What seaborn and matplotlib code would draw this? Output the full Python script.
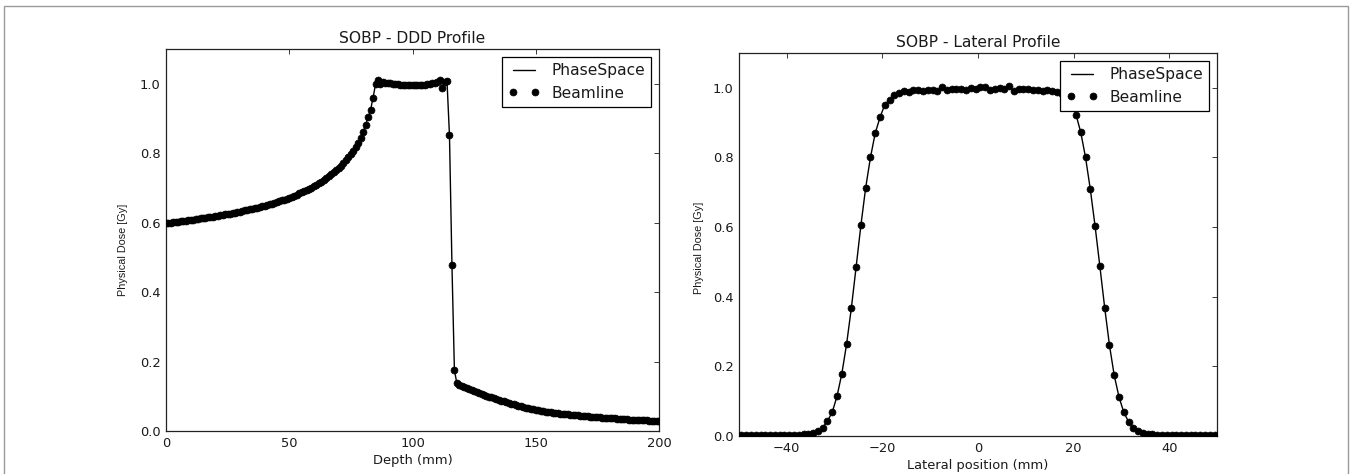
import numpy as np
import matplotlib
matplotlib.use("Agg")
import matplotlib.pyplot as plt
from matplotlib.patches import Rectangle
import seaborn as sns

# Depth-dose distribution (1 mm steps, 0-200 mm)
depth_mm = np.arange(0, 201, 1)
ddd_dose = [
    0.598, 0.599, 0.600, 0.601, 0.602, 0.603, 0.604, 0.605, 0.606, 0.607,
    0.608, 0.609, 0.610, 0.611, 0.612, 0.613, 0.614, 0.615, 0.616, 0.617,
    0.619, 0.620, 0.621, 0.622, 0.624, 0.625, 0.626, 0.628, 0.629, 0.630,
    0.632, 0.633, 0.635, 0.636, 0.638, 0.640, 0.641, 0.643, 0.645, 0.647,
    0.649, 0.651, 0.653, 0.655, 0.657, 0.659, 0.661, 0.664, 0.666, 0.669,
    0.672, 0.675, 0.678, 0.681, 0.684, 0.687, 0.690, 0.694, 0.697, 0.701,
    0.705, 0.709, 0.714, 0.718, 0.723, 0.728, 0.733, 0.739, 0.745, 0.751,
    0.757, 0.764, 0.771, 0.779, 0.788, 0.797, 0.807, 0.818, 0.830, 0.845,
    0.861, 0.882, 0.903, 0.925, 0.960, 0.998, 1.012, 1.000, 1.004, 1.002,
    1.003, 1.001, 0.999, 0.999, 0.998, 0.997, 0.997, 0.996, 0.996, 0.996,
    0.996, 0.996, 0.996, 0.997, 0.996, 0.997, 0.998, 0.999, 1.001, 1.003,
    1.005, 1.011, 0.987, 1.004, 1.007, 0.851, 0.479, 0.175, 0.137, 0.133,
    0.130, 0.127, 0.124, 0.121, 0.118, 0.115, 0.112, 0.110, 0.107, 0.104,
    0.102, 0.099, 0.097, 0.094, 0.092, 0.089, 0.087, 0.085, 0.083, 0.081,
    0.079, 0.077, 0.075, 0.073, 0.071, 0.069, 0.067, 0.066, 0.064, 0.063,
    0.061, 0.060, 0.058, 0.057, 0.056, 0.055, 0.054, 0.053, 0.052, 0.051,
    0.050, 0.049, 0.048, 0.048, 0.047, 0.046, 0.045, 0.045, 0.044, 0.043,
    0.043, 0.042, 0.041, 0.041, 0.040, 0.040, 0.039, 0.038, 0.038, 0.037,
    0.037, 0.036, 0.036, 0.035, 0.035, 0.034, 0.034, 0.034, 0.033, 0.033,
    0.032, 0.032, 0.032, 0.031, 0.031, 0.031, 0.030, 0.030, 0.030, 0.029,
    0.029,
]

# Lateral profile (1 mm bins centred from -49.5 to 49.5 mm)
lateral_mm = np.arange(-49.5, 50.0, 1.0)
lateral_dose = [
    0.003, 0.003, 0.003, 0.003, 0.003, 0.003, 0.003, 0.003, 0.003, 0.003,
    0.003, 0.004, 0.004, 0.005, 0.006, 0.008, 0.013, 0.024, 0.043, 0.068,
    0.114, 0.178, 0.263, 0.367, 0.485, 0.605, 0.713, 0.800, 0.870, 0.915,
    0.952, 0.966,
    0.979, 0.986, 0.991, 0.988, 0.994, 0.993, 0.992, 0.995, 0.994, 0.992,
    1.002, 0.995, 0.998, 0.996, 0.997, 0.995, 1.000, 0.996, 1.003, 1.001,
    0.995, 0.997, 1.000, 0.998, 1.004, 0.990, 0.996, 0.998, 0.996, 0.995,
    0.993, 0.992, 0.994, 0.990, 0.988, 0.982,
    0.975, 0.955, 0.923, 0.872, 0.800, 0.708, 0.602, 0.487, 0.369, 0.261,
    0.174, 0.112, 0.068, 0.041, 0.024, 0.013, 0.008, 0.006, 0.005, 0.004,
    0.004, 0.003, 0.003, 0.003, 0.003, 0.003, 0.003, 0.003, 0.003, 0.003,
    0.003, 0.003,
]

series_names = ["PhaseSpace", "Beamline"]
titles = ["SOBP - DDD Profile", "SOBP - Lateral Profile"]
xlabels = ["Depth (mm)", "Lateral position (mm)"]
ylabel = "Physical Dose [Gy]"
yticks = [0.0, 0.2, 0.4, 0.6, 0.8, 1.0]
ddd_xticks = [0, 50, 100, 150, 200]
lat_xticks = [-40, -20, 0, 20, 40]

sns.set_style("white")
plt.rcParams["font.family"] = ["DejaVu Sans"]
plt.rcParams["text.color"] = "#1a1a1a"
plt.rcParams["axes.labelcolor"] = "#1a1a1a"
plt.rcParams["xtick.color"] = "#1a1a1a"
plt.rcParams["ytick.color"] = "#1a1a1a"

W, H = 1352, 474
fig = plt.figure(figsize=(W / 100, H / 100), dpi=100)
fig.patch.set_facecolor("white")

ax1 = fig.add_axes([166 / W, 1 - 431 / H, 493 / W, 382 / H])
ax2 = fig.add_axes([739 / W, 1 - 436 / H, 478 / W, 383 / H])

panels = [
    (ax1, depth_mm, ddd_dose, (0, 200), ddd_xticks, -0.077, 0.475, 4.5),
    (ax2, lateral_mm, lateral_dose, (-50, 50), lat_xticks, -0.073, 0.49, 4.0),
]

for i, (ax, x, y, xlim, xt, lx, ly, tpad) in enumerate(panels):
    sns.lineplot(x=x, y=y, ax=ax, color="black", linewidth=1.0,
                 label=series_names[0], zorder=2)
    sns.lineplot(x=x, y=y, ax=ax, color="black", linestyle="",
                 marker="o", markersize=5.0, markeredgecolor="black",
                 markeredgewidth=0.5, label=series_names[1], zorder=3)
    ax.set_xlim(*xlim)
    ax.set_ylim(0, 1.1)
    ax.set_xticks(xt)
    ax.set_yticks(yticks)
    ax.set_yticklabels([f"{v:.1f}" for v in yticks])
    ax.tick_params(direction="in", length=3.5, width=0.6, top=True,
                   right=True, labelsize=9.4, pad=4)
    for s in ax.spines.values():
        s.set_color("#222222")
        s.set_linewidth(0.9)
        s.set_visible(True)
    ax.set_title(titles[i], fontsize=11.2, pad=tpad)
    ax.set_xlabel(xlabels[i], fontsize=9.4, labelpad=3)
    ax.set_ylabel(ylabel, fontsize=7.8, family=["Liberation Sans"])
    ax.yaxis.set_label_coords(lx, ly)
    leg = ax.legend(loc="upper right", numpoints=2, fontsize=11.2,
                    frameon=True, fancybox=False, framealpha=1.0,
                    edgecolor="black", borderpad=0.4, labelspacing=0.5,
                    handlelength=2.0, handletextpad=0.75, borderaxespad=0.5)
    leg.get_frame().set_linewidth(0.9)
    leg.set_zorder(10)

# thin grey border around the whole figure
fig.patches.append(Rectangle((4 / W, -0.05), 1344 / W, 1 - 6 / H + 0.05,
                             transform=fig.transFigure, fill=False,
                             edgecolor="#9a9a9a", linewidth=1.0))

fig.savefig("out.png", dpi=100, facecolor="white")
